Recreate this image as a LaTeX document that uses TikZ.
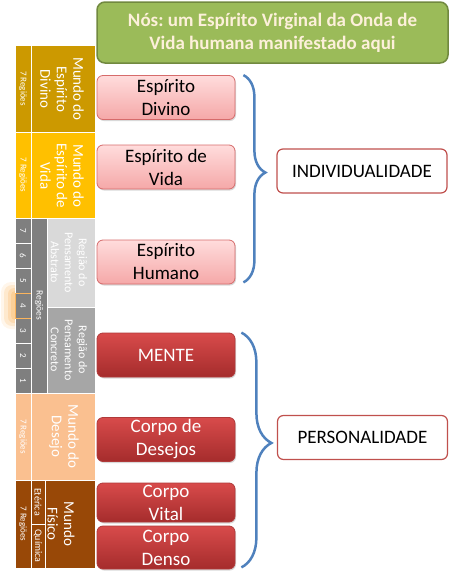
\documentclass[tikz,border=0pt]{standalone}
\usepackage{fontspec}
\setmainfont{Carlito}
\usetikzlibrary{positioning,calc,decorations.pathreplacing,shadows}
\frenchspacing

\definecolor{verdeTopo}{HTML}{9BBB59}
\definecolor{verdeBorda}{HTML}{71893F}
\definecolor{creme}{HTML}{FDF0DA}
\definecolor{rosaClaro}{HTML}{FFDCDC}
\definecolor{rosaEscuro}{HTML}{F5A8A8}
\definecolor{rosaBorda}{HTML}{D66B6B}
\definecolor{vermClaro}{HTML}{D84B4B}
\definecolor{vermEscuro}{HTML}{A52C2C}
\definecolor{vermBorda}{HTML}{B03A3A}
\definecolor{chave}{HTML}{4F81BD}
\definecolor{caixaBorda}{HTML}{C0504D}
\definecolor{divino}{HTML}{CC9900}
\definecolor{vida}{HTML}{FFC000}
\definecolor{abstrato}{HTML}{D9D9D9}
\definecolor{concreto}{HTML}{A6A6A6}
\definecolor{cinza}{HTML}{7F7F7F}
\definecolor{desejo}{HTML}{FAC090}
\definecolor{fisico}{HTML}{984807}
\definecolor{brilho}{HTML}{FBB45C}

\begin{document}
\begin{tikzpicture}[x=1pt, y=-1pt,
  veiculo/.style={rounded corners=6pt, minimum width=138pt,
    minimum height=44pt, inner sep=0pt, align=center,
    font=\fontsize{19}{23}\selectfont,
    drop shadow={opacity=0.3, shadow xshift=1pt, shadow yshift=-1.5pt}},
  espirito/.style={veiculo, top color=rosaClaro, bottom color=rosaEscuro,
    draw=rosaBorda, line width=0.8pt},
  corpo/.style={veiculo, top color=vermClaro, bottom color=vermEscuro,
    draw=vermBorda, line width=0.8pt, text=white},
  rotulo/.style={draw=caixaBorda, line width=1.2pt, fill=white,
    rounded corners=6pt, minimum width=170pt, minimum height=44pt,
    font=\fontsize{19}{23}\selectfont},
  chaveta/.style={decorate, decoration={brace, amplitude=#1, aspect=0.47},
    draw=chave, line width=2.5pt},
  faixa/.style={draw=white, line width=0.7pt},
  mundo/.style={rotate=-90, text=white, align=center,
    font=\fontsize{15}{16.5}\selectfont},
  regiao/.style={rotate=-90, text=white, align=center,
    font=\fontsize{12}{14}\selectfont},
  miudo/.style={rotate=-90, text=white, font=\fontsize{9}{11}\selectfont}]

\useasboundingbox (0,0) rectangle (455,571);

% Titulo
\node[draw=verdeBorda, fill=verdeTopo, line width=1.5pt, rounded corners=8pt,
  minimum width=351pt, minimum height=61pt, align=center, text=creme,
  font=\bfseries\fontsize{19}{23}\selectfont] (nos) at (272.5,32.5)
  {Nós: um Espírito Virginal da Onda de\\Vida humana manifestado aqui};

% Faixa lateral dos mundos
\path[faixa, fill=divino] (15,45) rectangle (31,132);
\path[faixa, fill=divino] (31,45) rectangle (95,132);
\path[faixa, fill=vida] (15,132) rectangle (31,218);
\path[faixa, fill=vida] (31,132) rectangle (95,218);
\node[miudo] (regdiv) at (23,88.5) {7 Regiões};
\node[mundo] (mdiv) at (62,89) {Mundo do\\Espírito\\Divino};
\node[miudo] (regvid) at (23,175) {7 Regiões};
\node[mundo] (mvid) at (62,176) {Mundo do\\Espírito de\\Vida};

% brilho na regiao 4
\fill[brilho, opacity=0.12, rounded corners=10pt] (1,282) rectangle (31,329);
\fill[brilho, opacity=0.2, rounded corners=8pt] (4,285) rectangle (31,326);
\fill[brilho, opacity=0.25, rounded corners=6pt] (8,288) rectangle (31,323);
\fill[brilho, opacity=0.3, rounded corners=4pt] (11,291) rectangle (31,320);

\path[faixa, fill=cinza] (15,218) rectangle (31,243);
\path[faixa, fill=cinza] (15,243) rectangle (31,268);
\path[faixa, fill=cinza] (15,268) rectangle (31,293);
\path[faixa, fill=cinza] (15,318) rectangle (31,343);
\path[faixa, fill=cinza] (15,343) rectangle (31,368);
\path[faixa, fill=cinza] (15,368) rectangle (31,393);
\path[draw=brilho, line width=0.8pt, fill=cinza] (15,293) rectangle (31,318);
\node[miudo] (n7) at (23,230.5) {7};
\node[miudo] (n6) at (23,255.5) {6};
\node[miudo] (n5) at (23,280.5) {5};
\node[miudo] (n4) at (23,305.5) {4};
\node[miudo] (n3) at (23,330.5) {3};
\node[miudo] (n2) at (23,355.5) {2};
\node[miudo] (n1) at (23,380.5) {1};

\path[faixa, fill=cinza] (31,218) rectangle (47,393);
\path[faixa, fill=abstrato] (47,218) rectangle (95,307);
\path[faixa, fill=concreto] (47,307) rectangle (95,393);
\node[miudo, font=\fontsize{9.5}{11}\selectfont] (regpen) at (39,305.5) {Regiões};
\node[regiao] (rabs) at (69,262.5) {Região do\\Pensamento\\Abstrato};
\node[regiao] (rcon) at (69,350) {Região do\\Pensamento\\Concreto};

\path[faixa, fill=desejo] (15,393) rectangle (31,480);
\path[faixa, fill=desejo] (31,393) rectangle (95,480);
\node[miudo] (regdes) at (23,436.5) {7 Regiões};
\node[mundo] (mdes) at (64,436.5) {Mundo do\\Desejo};

\path[faixa, fill=fisico] (15,480) rectangle (31,568);
\path[faixa, fill=fisico] (31,480) rectangle (45,524);
\path[faixa, fill=fisico] (31,524) rectangle (45,568);
\path[faixa, fill=fisico] (45,480) rectangle (95,568);
\node[miudo] (regfis) at (23,524) {7 Regiões};
\node[miudo, font=\fontsize{10}{12}\selectfont] (eter) at (38,502) {Etérica};
\node[miudo, font=\fontsize{10}{12}\selectfont] (quim) at (38,546) {Química};
\node[mundo] (mfis) at (61,524) {Mundo\\Físico};

% Veiculos
\node[espirito] (espdiv) at (166,97.5) {Espírito\\Divino};
\node[espirito] (espvid) at (166,167) {Espírito de\\Vida};
\node[espirito] (esphum) at (166,262) {Espírito\\Humano};
\node[corpo] (mente) at (166,355) {MENTE};
\node[corpo] (desejos) at (166,439.5) {Corpo de\\Desejos};
\node[corpo, minimum height=39pt] (vital) at (166,502.5) {Corpo\\Vital};
\node[corpo, minimum height=43pt] (denso) at (166,547.5) {Corpo\\Denso};

% Chaves e rotulos
\node[rotulo] (indiv) at (362,171) {INDIVIDUALIDADE};
\node[rotulo] (pers) at (362.5,437.5) {PERSONALIDADE};
\draw[chaveta=22pt] ($(espdiv.north east)+(8,0)$) -- ($(esphum.south east)+(8,-2)$);
\draw[chaveta=30pt] ($(mente.north east)+(6,0)$) -- ($(denso.south east)+(6,-2)$);

\end{tikzpicture}
\end{document}
